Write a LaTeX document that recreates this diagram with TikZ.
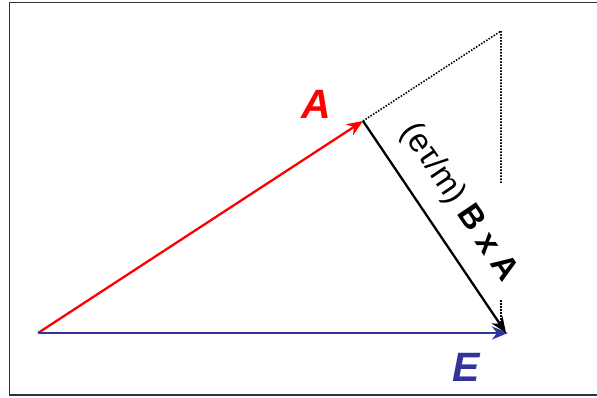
\documentclass[tikz,border=0pt]{standalone}
\usepackage{fontspec}
\setmainfont{Liberation Sans}
\usetikzlibrary{arrows.meta}
\definecolor{eblue}{HTML}{333399}
\begin{document}
\begin{tikzpicture}[x=1pt,y=-1pt,
  vec/.style={line width=2.3pt,-{Stealth[length=16pt,width=13pt,inset=5pt]}},
  dots/.style={line width=1.6pt,dash pattern=on 1.5pt off 1.5pt},
  lbl/.style={font=\fontsize{41}{41}\selectfont\bfseries\itshape}]
\useasboundingbox (0,0) rectangle (597,397);
\draw[line width=1.5pt,black!80] (600,2.5) -- (9.5,2.5) -- (9.5,395) -- (600,395);
\coordinate (O) at (38,333);
\coordinate (A) at (363,121);
\coordinate (E) at (508,333);
\coordinate (P) at (501,31);
\coordinate (Q) at (501,183);
\coordinate (R) at (501,300);
\coordinate (S) at (501,330);
\draw[dots] (A) -- (P) -- (Q);
\draw[dots] (R) -- (S);
\draw[vec,red] (O) -- (A);
\draw[vec,eblue] (O) -- (E);
\draw[vec,black] (A) -- (506,333) node[pos=0.475,sloped,above=14pt,font=\fontsize{33}{33}\selectfont] (L) {(eτ/m) \textbf{B x A}};
\node[lbl,red] (LA) at (316,104) {A};
\node[lbl,eblue] (LE) at (466,367) {E};
\end{tikzpicture}
\end{document}
